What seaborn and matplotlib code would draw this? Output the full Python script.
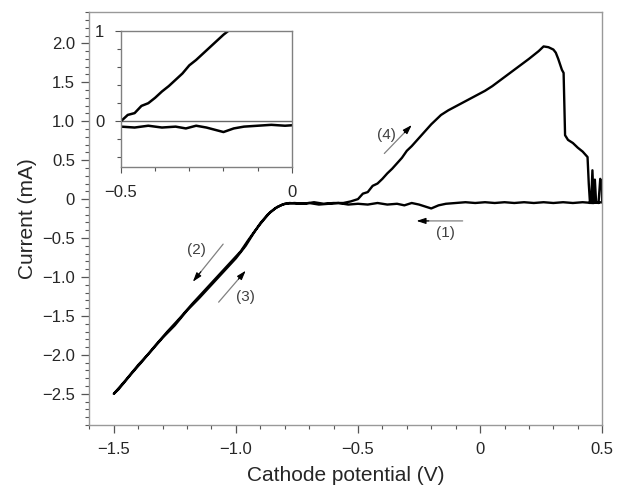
import numpy as np
import pandas as pd
import matplotlib
matplotlib.use("Agg")
import matplotlib.pyplot as plt
from matplotlib.ticker import MultipleLocator
import seaborn as sns

sns.set_style("ticks")
plt.rcParams['font.family'] = ['Liberation Sans', 'DejaVu Sans']

# single continuous sweep: (1) 0.5 -> -0.8, (2) down to -1.5, (3) back up, (4) to 0.5
potential = [0.50, 0.46, 0.42, 0.38, 0.34, 0.30, 0.26, 0.22, 0.18, 0.14, 0.10, 0.06,
             0.02, -0.02, -0.06, -0.10, -0.14, -0.17, -0.20, -0.22, -0.25, -0.28,
             -0.31, -0.34, -0.38, -0.42, -0.46, -0.50, -0.54, -0.58, -0.62, -0.66,
             -0.70, -0.74, -0.78,
             # (2)
             -0.81, -0.84, -0.87, -0.90, -0.93, -0.96, -1.00, -1.05, -1.10, -1.15,
             -1.20, -1.25, -1.30, -1.35, -1.40, -1.45, -1.50,
             # (3)
             -1.48, -1.43, -1.38, -1.33, -1.28, -1.23, -1.18, -1.13, -1.08, -1.03,
             -0.98, -0.95, -0.92, -0.89, -0.86, -0.83, -0.80, -0.76,
             # (4)
             -0.72, -0.68, -0.64, -0.60, -0.56, -0.53, -0.50, -0.48, -0.46, -0.44,
             -0.42, -0.40, -0.38, -0.36, -0.34, -0.32, -0.30, -0.28, -0.26, -0.24,
             -0.22, -0.20, -0.18, -0.16, -0.13, -0.10, -0.07, -0.04, -0.01, 0.02,
             0.05, 0.08, 0.11, 0.14, 0.17, 0.20, 0.22, 0.24, 0.26, 0.28, 0.30, 0.31,
             0.32, 0.335, 0.342, 0.345, 0.348, 0.36, 0.38, 0.40, 0.42, 0.44, 0.445,
             0.45, 0.455, 0.46, 0.465, 0.47, 0.475, 0.485, 0.492, 0.498, 0.50]

current = [-0.04, -0.05, -0.04, -0.05, -0.04, -0.05, -0.04, -0.05, -0.04, -0.05, -0.04, -0.05,
           -0.04, -0.05, -0.04, -0.05, -0.06, -0.08, -0.12, -0.10, -0.07, -0.05,
           -0.08, -0.06, -0.07, -0.05, -0.07, -0.06, -0.07, -0.05, -0.06, -0.07,
           -0.05, -0.06, -0.05,
           -0.07, -0.12, -0.20, -0.31, -0.45, -0.60, -0.76, -0.93, -1.10, -1.27,
           -1.43, -1.62, -1.78, -1.96, -2.13, -2.32, -2.50,
           -2.44, -2.25, -2.07, -1.88, -1.70, -1.53, -1.35, -1.18, -1.01, -0.84,
           -0.67, -0.53, -0.40, -0.28, -0.17, -0.10, -0.06, -0.05,
           -0.06, -0.04, -0.06, -0.05, -0.05, -0.03, 0.00, 0.07, 0.09, 0.17,
           0.20, 0.26, 0.33, 0.39, 0.46, 0.53, 0.62, 0.68, 0.75, 0.82,
           0.89, 0.96, 1.02, 1.08, 1.14, 1.19, 1.24, 1.29, 1.34, 1.39,
           1.45, 1.52, 1.59, 1.66, 1.73, 1.80, 1.85, 1.90, 1.96, 1.95, 1.92, 1.88,
           1.80, 1.66, 1.62, 1.20, 0.82, 0.76, 0.72, 0.66, 0.61, 0.54, 0.20,
           -0.05, -0.04, 0.37, -0.05, 0.25, -0.04, -0.05, 0.26, 0.20, -0.04]

df = pd.DataFrame({"E": potential, "I": current})

x_ticks = [-1.5, -1.0, -0.5, 0, 0.5]
x_ticklabels = ["\u22121.5", "\u22121.0", "\u22120.5", "0", "0.5"]
y_ticks = [-2.5, -2.0, -1.5, -1.0, -0.5, 0, 0.5, 1.0, 1.5, 2.0]
y_ticklabels = ["\u22122.5", "\u22122.0", "\u22121.5", "\u22121.0", "\u22120.5",
                "0", "0.5", "1.0", "1.5", "2.0"]

# arrows: (label, tail, head, label position)
arrows = [("(1)", (-0.06, -0.28), (-0.26, -0.28), (-0.14, -0.44)),
          ("(2)", (-1.045, -0.55), (-1.176, -1.06), (-1.16, -0.65)),
          ("(3)", (-1.078, -1.35), (-0.96, -0.92), (-0.96, -1.26)),
          ("(4)", (-0.40, 0.56), (-0.28, 0.95), (-0.385, 0.82))]

spine_col = '#999999'
text_col = '#262626'

fig = plt.figure(figsize=(6.17, 4.86), dpi=100)
ax = fig.add_axes([0.144, 0.1255, 0.832, 0.8495])

sns.lineplot(data=df, x="E", y="I", sort=False, estimator=None, color='black',
             lw=1.7, ax=ax)

ax.set_xlim(-1.602, 0.5)
ax.set_ylim(-2.9, 2.4)
ax.set_xticks(x_ticks)
ax.set_xticklabels(x_ticklabels)
ax.set_yticks(y_ticks)
ax.set_yticklabels(y_ticklabels)
ax.xaxis.set_minor_locator(MultipleLocator(0.1))
ax.yaxis.set_minor_locator(MultipleLocator(0.1))
ax.tick_params(which='major', length=6, width=0.9, color='#555555',
               labelsize=12, labelcolor=text_col, direction='out')
ax.tick_params(axis='x', which='major', pad=6)
ax.tick_params(axis='y', which='major', pad=4)
ax.tick_params(which='minor', length=3, width=0.8, color='#555555', direction='out')
for s in ax.spines.values():
    s.set_color(spine_col)
    s.set_linewidth(1.0)
ax.set_xlabel("Cathode potential (V)", fontsize=15, color=text_col, labelpad=7)
ax.set_ylabel("Current (mA)", fontsize=15, color=text_col, labelpad=4)

for lab, tail, head, lpos in arrows:
    ax.annotate('', xy=head, xytext=tail,
                arrowprops=dict(arrowstyle='-', color='#808080', lw=0.9))
    dx = head[0] - tail[0]
    dy = head[1] - tail[1]
    ax.annotate('', xy=head, xytext=(head[0] - 0.25 * dx, head[1] - 0.25 * dy),
                arrowprops=dict(arrowstyle='-|>,head_length=0.55,head_width=0.18',
                                color='black', lw=0.8, shrinkA=0, shrinkB=0))
    ax.text(lpos[0], lpos[1], lab, fontsize=11, color='#404040',
            ha='center', va='center')

# inset
axin = fig.add_axes([0.196, 0.656, 0.277, 0.28])
sns.lineplot(data=df, x="E", y="I", sort=False, estimator=None, color='black',
             lw=1.8, ax=axin)
axin.axhline(0, color='#666666', lw=1.0, zorder=0)
axin.set_xlim(-0.5, 0)
axin.set_ylim(-0.51, 1.0)
axin.set_xticks([-0.5, 0])
axin.set_xticklabels(["\u22120.5", "0"])
axin.set_yticks([0, 1])
axin.set_yticklabels(["0", "1"])
axin.xaxis.set_minor_locator(MultipleLocator(0.1))
axin.yaxis.set_minor_locator(MultipleLocator(0.2))
axin.tick_params(which='major', length=4, width=0.8, color='#555555',
                 labelsize=12, labelcolor=text_col)
axin.tick_params(axis='x', which='major', pad=9)
axin.tick_params(axis='y', which='major', pad=8)
axin.tick_params(which='minor', length=3, width=0.8, color='#555555')
axin.set_xlabel("")
axin.set_ylabel("")
for s in axin.spines.values():
    s.set_color('#808080')
    s.set_linewidth(1.0)

fig.savefig("out.png", dpi=100)
